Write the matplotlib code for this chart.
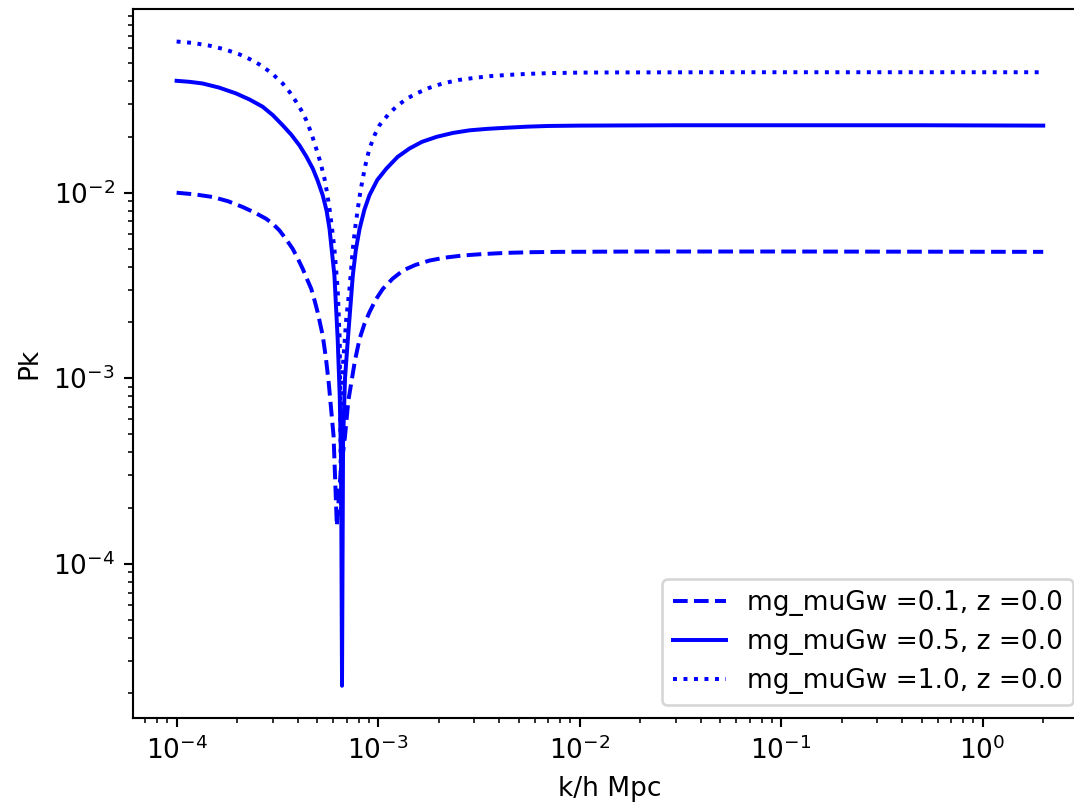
import numpy as np
import matplotlib
matplotlib.use("Agg")
import matplotlib.pyplot as plt

# values, one (k, Pk) list per curve
k_01 = [1.0e-4, 1.23e-4, 1.51e-4, 1.8e-4, 2.13e-4, 2.45e-4, 2.78e-4, 3.0e-4,
        3.24e-4, 3.5e-4, 3.77e-4, 4.0e-4, 4.23e-4, 4.45e-4, 4.66e-4, 4.85e-4,
        5.01e-4, 5.31e-4, 5.5e-4, 5.69e-4, 6.01e-4, 6.24e-4, 6.5e-4, 6.85e-4,
        7.12e-4, 7.67e-4, 8.09e-4, 8.55e-4, 9.06e-4, 9.75e-4, 1.055e-3, 1.18e-3,
        1.33e-3, 1.53e-3, 1.8e-3, 2.15e-3, 2.64e-3, 3.3e-3, 4.33e-3, 5.8e-3,
        8e-3, 2e-2, 0.1, 0.5, 2.0]
pk_01 = [0.0100, 0.0098, 0.00948, 0.0090, 0.00837, 0.0078, 0.00724, 0.0068,
         0.00626, 0.0056, 0.00498, 0.0044, 0.00388, 0.0034, 0.00303, 0.0026,
         0.00227, 0.0017, 0.0013, 9.4e-4, 4.9e-4, 1.6e-4, 3.0e-4, 4.87e-4,
         7.6e-4, 1.24e-3, 1.63e-3, 1.96e-3, 2.27e-3, 2.66e-3, 3.03e-3, 3.44e-3,
         3.81e-3, 4.08e-3, 4.31e-3, 4.47e-3, 4.59e-3, 4.67e-3, 4.74e-3, 4.78e-3,
         4.8e-3, 4.82e-3, 4.82e-3, 4.81e-3, 4.8e-3]

k_05 = [1.0e-4, 1.16e-4, 1.345e-4, 1.62e-4, 1.97e-4, 2.3e-4, 2.67e-4, 3.0e-4,
        3.36e-4, 3.7e-4, 4.07e-4, 4.4e-4, 4.74e-4, 5.0e-4, 5.31e-4, 5.55e-4,
        5.74e-4, 6.07e-4, 6.3e-4, 6.45e-4, 6.55e-4, 6.62e-4, 6.7e-4, 6.85e-4,
        7.08e-4, 7.49e-4, 7.75e-4, 8.09e-4, 8.55e-4, 9.06e-4, 9.9e-4, 1.1e-3,
        1.25e-3, 1.43e-3, 1.65e-3, 1.95e-3, 2.35e-3, 2.85e-3, 3.5e-3, 4.33e-3,
        5.5e-3, 7e-3, 1.0e-2, 3e-2, 0.1, 0.5, 2.0]
pk_05 = [0.0401, 0.0396, 0.0388, 0.0369, 0.0343, 0.0318, 0.0291, 0.0262,
         0.0231, 0.0206, 0.0180, 0.0157, 0.0135, 0.0117, 0.0097, 0.0080,
         0.00638, 0.00358, 0.00163, 8.0e-4, 3.5e-4, 2.2e-5, 4.5e-4, 1.0e-3,
         1.63e-3, 3.58e-3, 4.9e-3, 6.38e-3, 8.1e-3, 9.7e-3, 0.0117, 0.0135,
         0.0156, 0.0173, 0.0188, 0.0200, 0.0210, 0.0217, 0.0221, 0.0224,
         0.0227, 0.0229, 0.0230, 0.0231, 0.0231, 0.0231, 0.0230]

k_10 = [1.0e-4, 1.2e-4, 1.45e-4, 1.73e-4, 2.05e-4, 2.3e-4, 2.57e-4, 2.95e-4,
        3.36e-4, 3.63e-4, 3.92e-4, 4.15e-4, 4.4e-4, 4.65e-4, 4.93e-4, 5.18e-4,
        5.42e-4, 5.58e-4, 5.74e-4, 5.9e-4, 6.07e-4, 6.3e-4, 6.45e-4, 6.55e-4,
        6.7e-4, 6.95e-4, 7.21e-4, 7.49e-4, 7.7e-4, 7.93e-4, 8.15e-4, 8.39e-4,
        8.7e-4, 9.06e-4, 9.6e-4, 1.016e-3, 1.12e-3, 1.23e-3, 1.38e-3, 1.55e-3,
        1.8e-3, 2.09e-3, 2.5e-3, 3.07e-3, 3.6e-3, 4.33e-3, 5.5e-3, 7e-3,
        1.0e-2, 1.5e-2, 5e-2, 0.2, 2.0]
pk_10 = [0.0653, 0.0642, 0.0621, 0.0593, 0.0557, 0.0526, 0.0492, 0.0443,
         0.0388, 0.0350, 0.0309, 0.0279, 0.0246, 0.0211, 0.0173, 0.0145,
         0.0119, 0.0100, 0.0082, 0.0065, 0.00498, 0.00303, 0.0016, 1.8e-4,
         1.2e-3, 2.1e-3, 3.03e-3, 4.98e-3, 6.5e-3, 8.2e-3, 0.0100, 0.0119,
         0.0145, 0.0173, 0.0204, 0.0231, 0.0263, 0.0291, 0.0320, 0.0343,
         0.0368, 0.0388, 0.0405, 0.0417, 0.0425, 0.0431, 0.0437, 0.0441,
         0.0444, 0.0445, 0.0446, 0.0446, 0.0446]

mus = [0.1, 0.5, 1.0]
styles = ['--', '-', ':']

dpi = 190
fig = plt.figure(figsize=(1074 / dpi, 810 / dpi), dpi=dpi)
ax = fig.add_axes([0.1241, 0.1136, 0.8876, 0.8749])

for mu, kk, pk, ls in zip(mus, [k_01, k_05, k_10], [pk_01, pk_05, pk_10], styles):
    ax.loglog(kk, pk, color='b', linestyle=ls, label='mg_muGw =' + str(mu) + ', z =0.0')

ax.set_xlabel("k/h Mpc")
ax.set_ylabel("Pk")
ax.legend(loc='lower right')
fig.savefig('out.png', dpi=dpi)
